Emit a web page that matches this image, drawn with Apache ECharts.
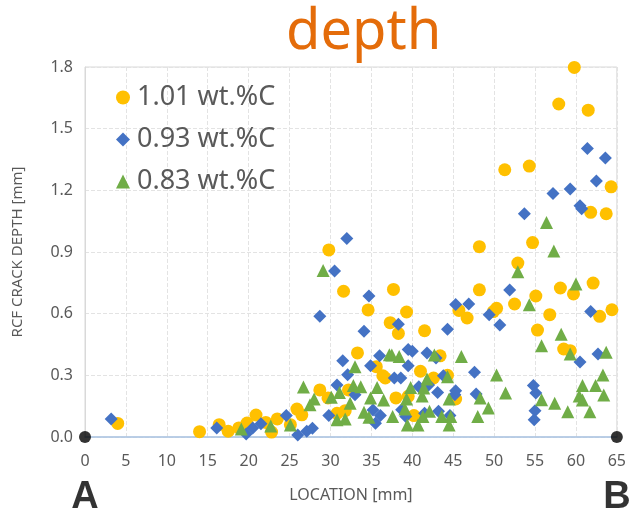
<!DOCTYPE html>
<html>
<head>
<meta charset="utf-8">
<script src="https://cdn.jsdelivr.net/npm/echarts@6/dist/echarts.min.js"></script>
<style>html,body{margin:0;padding:0;background:#fff}#c{width:629px;height:513px}</style>
</head>
<body>
<div id="c"></div>
<script>
var seriesNames = ['1.01 wt.%C', '0.93 wt.%C', '0.83 wt.%C'];
var xTicks = {min: 0, max: 65, interval: 5};
var yTicks = {min: 0, max: 1.8, interval: 0.3};

var c101 = [[4.0,0.066],[14.0,0.026],[16.4,0.06],[17.5,0.028],[18.8,0.044],[19.8,0.068],[20.9,0.107],[22.1,0.071],[22.8,0.024],[23.5,0.088],[25.1,0.06],[25.9,0.136],[26.5,0.108],[28.7,0.229],[29.7,0.19],[29.8,0.91],[30.8,0.115],[31.6,0.709],[31.8,0.128],[32.2,0.229],[33.3,0.409],[34.6,0.618],[35.6,0.342],[36.4,0.298],[36.7,0.287],[37.3,0.556],[37.7,0.718],[38.0,0.19],[38.3,0.504],[39.3,0.608],[39.5,0.198],[40.2,0.104],[41.0,0.32],[41.5,0.517],[42.6,0.287],[43.4,0.395],[44.3,0.30],[45.3,0.185],[45.7,0.616],[46.7,0.579],[48.2,0.926],[48.2,0.716],[49.9,0.61],[50.3,0.626],[51.3,1.30],[52.5,0.647],[52.9,0.846],[54.3,1.318],[54.7,0.946],[55.1,0.686],[55.3,0.52],[56.8,0.595],[57.9,1.62],[58.1,0.725],[58.5,0.428],[59.3,0.42],[59.7,0.696],[59.8,1.798],[61.5,1.59],[61.8,1.093],[62.1,0.749],[62.9,0.587],[63.7,1.086],[64.3,1.217],[64.4,0.619]];

var c093 = [[3.2,0.088],[16.1,0.044],[19.7,0.015],[20.5,0.044],[21.5,0.065],[24.6,0.104],[26.0,0.01],[27.1,0.028],[27.8,0.042],[28.7,0.587],[29.8,0.104],[30.5,0.807],[30.8,0.253],[31.5,0.371],[32.0,0.966],[32.1,0.303],[33.0,0.206],[34.1,0.514],[34.7,0.686],[34.9,0.347],[35.2,0.131],[35.5,0.067],[36.0,0.395],[36.1,0.104],[37.8,0.287],[38.3,0.548],[38.6,0.287],[38.7,0.133],[39.2,0.10],[39.5,0.426],[39.5,0.347],[40.0,0.417],[40.8,0.245],[41.5,0.115],[41.8,0.409],[42.0,0.253],[42.9,0.384],[43.1,0.217],[43.2,0.125],[43.8,0.298],[44.3,0.524],[44.6,0.104],[45.2,0.205],[45.3,0.645],[45.3,0.225],[46.9,0.647],[47.6,0.315],[47.8,0.209],[49.4,0.595],[50.7,0.545],[51.9,0.715],[53.7,1.086],[54.8,0.25],[54.9,0.084],[55.0,0.128],[55.1,0.214],[57.2,1.185],[59.3,1.206],[60.5,0.365],[60.5,1.125],[60.7,1.11],[61.4,1.404],[61.8,0.61],[62.5,1.245],[62.7,0.404],[63.6,1.357]];

var c083 = [[19.1,0.039],[22.7,0.054],[25.1,0.058],[26.7,0.243],[27.5,0.157],[28.0,0.185],[29.1,0.81],[30.1,0.193],[30.8,0.084],[31.1,0.217],[31.8,0.088],[32.4,0.164],[32.8,0.25],[33.0,0.342],[33.7,0.245],[34.1,0.12],[34.7,0.096],[34.9,0.19],[35.7,0.241],[36.5,0.18],[37.2,0.40],[37.5,0.399],[38.4,0.392],[37.6,0.10],[39.1,0.136],[39.3,0.185],[39.4,0.058],[39.8,0.241],[40.7,0.058],[41.2,0.20],[41.3,0.10],[41.4,0.238],[41.8,0.282],[42.1,0.125],[42.7,0.399],[43.6,0.10],[44.3,0.293],[44.5,0.185],[44.5,0.058],[44.7,0.10],[46.0,0.392],[48.0,0.10],[48.3,0.19],[49.3,0.141],[50.3,0.302],[51.4,0.214],[52.9,0.804],[54.3,0.643],[55.8,0.444],[55.8,0.181],[56.4,1.044],[57.3,0.905],[57.4,0.164],[58.2,0.50],[59.0,0.123],[59.3,0.404],[60.0,0.744],[60.4,0.20],[60.8,0.25],[60.8,0.18],[61.7,0.123],[62.4,0.25],[63.3,0.302],[63.4,0.204],[63.7,0.412]];

var endPoints = [{name: 'A', value: [0, 0]}, {name: 'B', value: [65, 0]}];

var FONT = 'Noto Sans';
var chart = echarts.init(document.getElementById('c'), null, {renderer: 'canvas'});
chart.setOption({
  animation: false,
  backgroundColor: '#ffffff',
  title: {
    text: 'depth', left: 281, top: 0,
    textStyle: {color: '#E46C0A', fontSize: 56, fontWeight: 'normal', fontFamily: FONT}
  },
  legend: {
    orient: 'vertical', left: 111, top: 79, itemGap: 15,
    itemWidth: 14, itemHeight: 14,
    data: [{name: seriesNames[0], icon: 'circle'}, {name: seriesNames[1], icon: 'diamond'}, {name: seriesNames[2], icon: 'triangle'}],
    textStyle: {color: '#595959', fontSize: 27, fontFamily: FONT, padding: [0, 0, 0, 2]}
  },
  grid: {left: 85, right: 11, top: 67, bottom: 76, show: true, borderColor: '#D9D9D9', borderWidth: 1},
  xAxis: {
    type: 'value', min: xTicks.min, max: xTicks.max, interval: xTicks.interval,
    name: 'LOCATION [mm]', nameLocation: 'middle', nameGap: 50,
    nameTextStyle: {color: '#595959', fontSize: 16, fontFamily: FONT},
    axisLine: {show: true, lineStyle: {color: '#A9C4E4', width: 1.5}},
    axisTick: {show: false},
    axisLabel: {color: '#595959', fontSize: 16, fontFamily: FONT, margin: 16},
    splitLine: {show: true, lineStyle: {color: '#E3E3E3', type: 'dashed'}}
  },
  yAxis: {
    type: 'value', min: yTicks.min, max: yTicks.max, interval: yTicks.interval,
    name: 'RCF CRACK DEPTH [mm]', nameLocation: 'middle', nameGap: 60,
    nameTextStyle: {color: '#595959', fontSize: 15, fontFamily: FONT},
    axisLine: {show: true, lineStyle: {color: '#D9D9D9'}},
    axisTick: {show: false},
    axisLabel: {color: '#595959', fontSize: 16, fontFamily: FONT, margin: 12,
      formatter: function (v) { return v.toFixed(1); }},
    splitLine: {show: true, lineStyle: {color: '#E3E3E3', type: 'dashed'}}
  },
  series: [
    {name: seriesNames[0], type: 'scatter', symbol: 'circle', symbolSize: 13, data: c101,
      itemStyle: {color: '#FFC000', opacity: 1}},
    {name: seriesNames[1], type: 'scatter', symbol: 'diamond', symbolSize: 13, data: c093,
      itemStyle: {color: '#4472C4', opacity: 1}},
    {name: seriesNames[2], type: 'scatter', symbol: 'triangle', symbolSize: 13, data: c083,
      itemStyle: {color: '#70AD47', opacity: 1}},
    {name: 'ends', type: 'scatter', symbol: 'circle', symbolSize: 12, clip: false, z: 10, data: endPoints,
      itemStyle: {color: '#000000'},
      label: {show: true, position: 'bottom', distance: 36, formatter: '{b}',
        color: '#000000', fontSize: 38, fontWeight: 'bold', fontFamily: 'Liberation Sans'}}
  ]
});
</script>
</body>
</html>
